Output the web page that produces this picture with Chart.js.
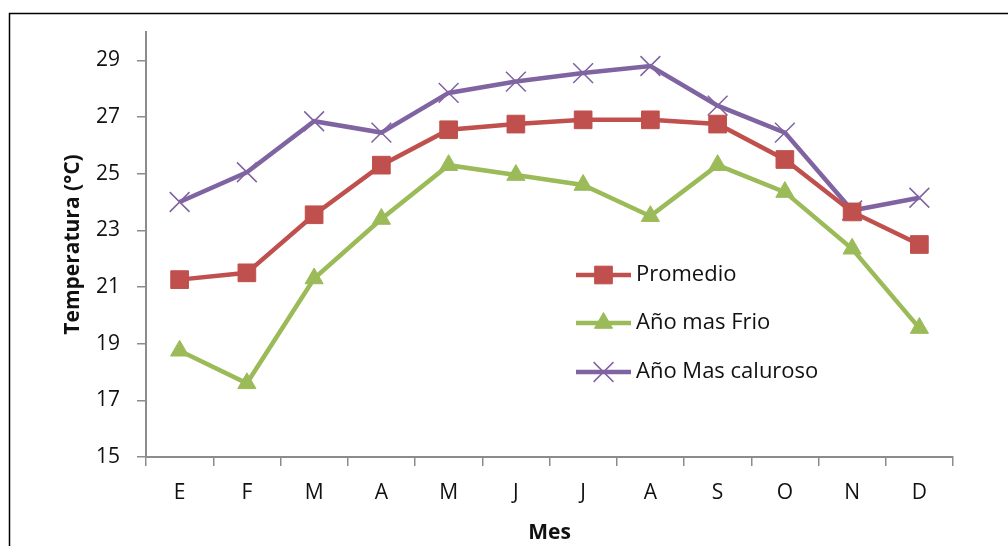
<!DOCTYPE html>
<html>
<head>
<meta charset="utf-8">
<script src="https://cdn.jsdelivr.net/npm/chart.js@4/dist/chart.umd.min.js"></script>
<style>
    html, body { margin: 0; padding: 0; background: #ffffff; }
    #wrap { width: 1008px; height: 546px; position: relative; }
</style>
</head>
<body>
<div id="wrap"><canvas id="myChart" width="1008" height="546"></canvas></div>
<script>
// months (Spanish initials)
var meses = ['E', 'F', 'M', 'A', 'M', 'J', 'J', 'A', 'S', 'O', 'N', 'D'];

// temperatures
var promedio = [21.26, 21.5, 23.55, 25.3, 26.55, 26.75, 26.9, 26.9, 26.75, 25.5, 23.65, 22.5];
var anoFrio = [18.75, 17.6, 21.3, 23.4, 25.3, 24.95, 24.6, 23.5, 25.3, 24.35, 22.35, 19.55];
var anoCaluroso = [24.0, 25.05, 26.85, 26.45, 27.85, 28.25, 28.55, 28.8, 27.4, 26.45, 23.7, 24.15];

var yTicks = [15, 17, 19, 21, 23, 25, 27, 29];

var fontName = "'Open Sans', sans-serif";
var textColor = '#111111';
var axisColor = '#8c8c8c';

// legend drawn inside the plot, line + marker like the spreadsheet one
var insideLegend = {
    id: 'insideLegend',
    afterDatasetsDraw: function (chart) {
        var ctx = chart.ctx;
        var x0 = 576, x1 = 631;
        var rows = [275, 323, 372];
        chart.data.datasets.forEach(function (ds, i) {
            var y = rows[i];
            ctx.save();
            ctx.strokeStyle = ds.borderColor;
            ctx.lineWidth = ds.borderWidth;
            ctx.beginPath();
            ctx.moveTo(x0, y);
            ctx.lineTo(x1, y);
            ctx.stroke();
            ctx.fillStyle = ds.pointBackgroundColor;
            ctx.strokeStyle = ds.pointBorderColor;
            ctx.lineWidth = ds.pointBorderWidth;
            Chart.helpers.drawPoint(ctx, {
                pointStyle: ds.pointStyle,
                radius: ds.pointRadius,
                borderWidth: ds.pointBorderWidth,
                rotation: 0
            }, (x0 + x1) / 2, y);
            ctx.fillStyle = textColor;
            ctx.font = '22px ' + fontName;
            ctx.textAlign = 'left';
            ctx.textBaseline = 'middle';
            ctx.fillText(ds.label, x1 + 5, y);
            ctx.restore();
        });
    }
};

// thin frame round the chart
var frame = {
    id: 'frame',
    beforeDraw: function (chart) {
        var ctx = chart.ctx;
        ctx.save();
        ctx.strokeStyle = '#000000';
        ctx.lineWidth = 1.5;
        ctx.strokeRect(9.5, 13.5, 1010, 550);
        ctx.restore();
    }
};

var ctx = document.getElementById('myChart').getContext('2d');
var chart = new Chart(ctx, {
    type: 'line',
    data: {
        labels: meses,
        datasets: [{
            label: 'Promedio',
            data: promedio,
            borderColor: '#C0504D',
            backgroundColor: '#C0504D',
            pointBackgroundColor: '#C0504D',
            pointBorderColor: '#C0504D',
            borderWidth: 4.5,
            pointStyle: 'rect',
            pointRadius: 12.5,
            pointBorderWidth: 1
        }, {
            label: 'Año mas Frio',
            data: anoFrio,
            borderColor: '#9BBB59',
            backgroundColor: '#9BBB59',
            pointBackgroundColor: '#9BBB59',
            pointBorderColor: '#9BBB59',
            borderWidth: 4.5,
            pointStyle: 'triangle',
            pointRadius: 10.5,
            pointBorderWidth: 1
        }, {
            label: 'Año Mas caluroso',
            data: anoCaluroso,
            borderColor: '#8064A2',
            backgroundColor: '#8064A2',
            pointBackgroundColor: '#8064A2',
            pointBorderColor: '#8064A2',
            borderWidth: 4.5,
            pointStyle: 'crossRot',
            pointRadius: 14,
            pointBorderWidth: 1.5
        }]
    },
    options: {
        responsive: false,
        animation: false,
        layout: { padding: { left: 50, top: 32, right: 55, bottom: 0 } },
        plugins: {
            legend: { display: false },
            tooltip: { enabled: false }
        },
        elements: { line: { tension: 0 } },
        scales: {
            x: {
                offset: true,
                afterFit: function (scale) { scale.height = 89; },
                grid: {
                    offset: true,
                    drawOnChartArea: false,
                    drawTicks: true,
                    tickLength: 9,
                    color: axisColor,
                    lineWidth: 1.5
                },
                border: { display: true, color: axisColor, width: 2 },
                ticks: {
                    color: textColor,
                    font: { family: fontName, size: 21 },
                    padding: 14,
                    maxRotation: 0
                },
                title: {
                    display: true,
                    text: 'Mes',
                    color: textColor,
                    font: { family: fontName, size: 21, weight: 'bold' },
                    padding: { top: 0, bottom: 0 }
                }
            },
            y: {
                min: 15,
                max: 30,
                afterFit: function (scale) { scale.width = 96; },
                afterBuildTicks: function (scale) {
                    scale.ticks = yTicks.map(function (v) { return { value: v }; });
                },
                grid: {
                    drawOnChartArea: false,
                    drawTicks: true,
                    tickLength: 9,
                    color: axisColor,
                    lineWidth: 1.5
                },
                border: { display: true, color: axisColor, width: 2 },
                ticks: {
                    color: textColor,
                    font: { family: fontName, size: 21 },
                    padding: 17
                },
                title: {
                    display: true,
                    text: 'Temperatura (°C)',
                    color: textColor,
                    font: { family: fontName, size: 21, weight: 'bold' },
                    padding: { top: 10, bottom: 0 }
                }
            }
        }
    },
    plugins: [frame, insideLegend]
});
</script>
</body>
</html>
